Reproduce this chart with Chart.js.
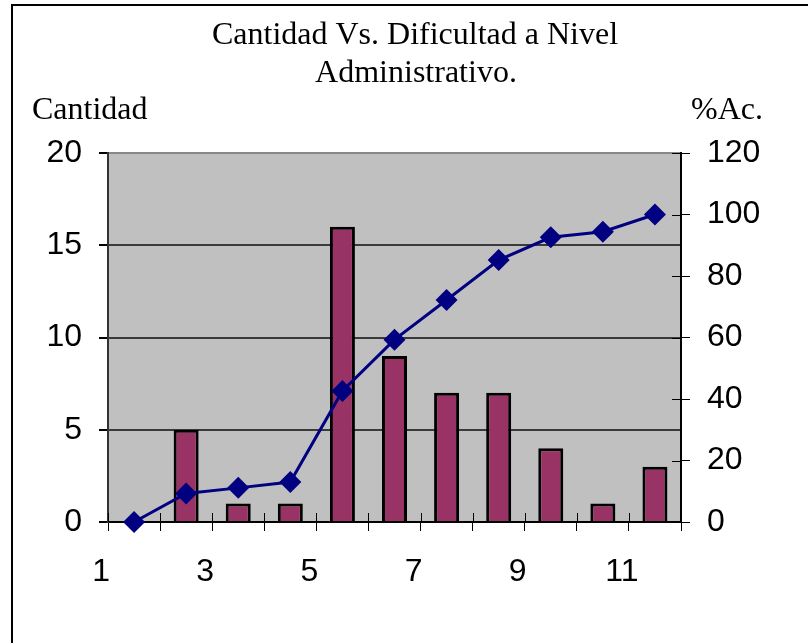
<!DOCTYPE html>
<html>
<head>
<meta charset="utf-8">
<script src="https://cdn.jsdelivr.net/npm/chart.js@4"></script>
<style>
  body { margin: 0; background: #fff; }
  canvas { display: block; }
</style>
</head>
<body>
<canvas id="paretoChart" width="808" height="643"></canvas>
<script>
const categories = ["1", "2", "3", "4", "5", "6", "7", "8", "9", "10", "11"];
const cantidad = [0, 5, 1, 1, 16, 9, 7, 7, 4, 1, 3];
const porcentajeAc = [0, 9.3, 11.1, 13.0, 42.6, 59.3, 72.2, 85.2, 92.6, 94.4, 100];
const titleLines = ["Cantidad Vs. Dificultad a Nivel", "Administrativo."];
const leftTitle = "Cantidad";
const rightTitle = "%Ac.";

const serif = '"Liberation Serif", "Times New Roman", serif';
const sans = '"Liberation Sans", Arial, sans-serif';

// gray plot area, outer frame and the horizontal texts
const decor = {
  id: "decor",
  beforeDraw(chart) {
    const { ctx, chartArea } = chart;
    ctx.save();
    ctx.fillStyle = "#c0c0c0";
    ctx.fillRect(chartArea.left, chartArea.top,
      chartArea.right - chartArea.left, chartArea.bottom - chartArea.top);
    ctx.strokeStyle = "#000";
    ctx.lineWidth = 2;
    ctx.beginPath();
    ctx.moveTo(12, 643);
    ctx.lineTo(12, 5);
    ctx.lineTo(808, 5);
    ctx.stroke();

    ctx.fillStyle = "#000";
    ctx.font = "32px " + serif;
    ctx.textBaseline = "alphabetic";
    ctx.textAlign = "center";
    ctx.fillText(titleLines[0], 415, 44);
    ctx.fillText(titleLines[1], 416, 82);
    ctx.textAlign = "left";
    ctx.fillText(leftTitle, 32, 119);
    ctx.textAlign = "right";
    ctx.fillText(rightTitle, 763, 119);
    ctx.restore();
  },
  afterDraw(chart) {
    // inner half of the crossing tick marks
    const { ctx, chartArea } = chart;
    const x = chart.scales.x;
    const y1 = chart.scales.y1;
    ctx.save();
    ctx.strokeStyle = "#000";
    ctx.lineWidth = 1;
    ctx.beginPath();
    for (let i = 0; i <= categories.length; i++) {
      const px = Math.round(x.getPixelForValue(i - 0.5)) + 0.5;
      ctx.moveTo(px, chartArea.bottom - 9);
      ctx.lineTo(px, chartArea.bottom);
    }
    y1.ticks.forEach((t) => {
      const py = Math.round(y1.getPixelForValue(t.value)) + 0.5;
      ctx.moveTo(chartArea.right - 9, py);
      ctx.lineTo(chartArea.right, py);
    });
    ctx.stroke();
    ctx.restore();
  },
};

new Chart(document.getElementById("paretoChart"), {
  type: "bar",
  data: {
    labels: categories,
    datasets: [
      {
        type: "line",
        label: "%Ac.",
        data: porcentajeAc,
        yAxisID: "y1",
        borderColor: "#000080",
        borderWidth: 3,
        backgroundColor: "#000080",
        pointStyle: "rectRot",
        pointRadius: 11,
        pointBorderWidth: 0,
        pointBackgroundColor: "#000080",
        tension: 0,
        clip: false,
        order: 1,
      },
      {
        label: "Cantidad",
        data: cantidad,
        yAxisID: "y",
        backgroundColor: "#993366",
        borderColor: "#000",
        borderWidth: 3,
        barPercentage: 0.48,
        categoryPercentage: 1,
        order: 2,
      },
    ],
  },
  options: {
    responsive: false,
    animation: false,
    layout: { padding: { top: 153, left: 0, right: 0, bottom: 0 } },
    plugins: {
      legend: { display: false },
      tooltip: { enabled: false },
      title: { display: false },
    },
    scales: {
      x: {
        offset: true,
        grid: {
          offset: true,
          drawOnChartArea: false,
          tickLength: 9,
          tickColor: "#000",
        },
        border: { color: "#000", width: 2 },
        ticks: {
          autoSkip: false,
          maxRotation: 0,
          padding: 22,
          labelOffset: -33,
          color: "#000",
          font: { family: sans, size: 32 },
          callback: (v, i) => (i % 2 === 0 ? categories[i] : ""),
        },
        afterFit: (s) => { s.height = 121; },
      },
      y: {
        position: "left",
        min: 0,
        max: 20,
        ticks: {
          stepSize: 5,
          padding: 17,
          color: "#000",
          font: { family: sans, size: 32 },
        },
        grid: {
          color: (c) => (c.tick && c.tick.value === 20 ? "#888" : "#3a3a3a"),
          lineWidth: 2,
          tickLength: 9,
          tickColor: "#000",
        },
        border: { color: "#333", width: 2 },
        afterFit: (s) => { s.width = 108; },
      },
      y1: {
        position: "right",
        min: 0,
        max: 120,
        ticks: {
          stepSize: 20,
          padding: 17,
          color: "#000",
          font: { family: sans, size: 32 },
        },
        grid: {
          drawOnChartArea: false,
          tickLength: 9,
          tickColor: "#000",
        },
        border: { color: "#000", width: 2 },
        afterFit: (s) => { s.width = 127; },
      },
    },
  },
  plugins: [decor],
});
</script>
</body>
</html>
